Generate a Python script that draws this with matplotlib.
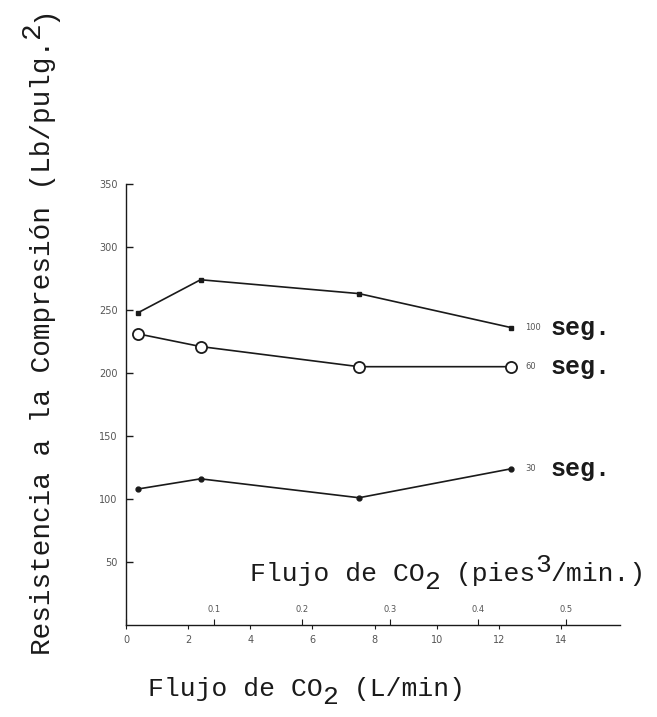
import numpy as np
import matplotlib
matplotlib.use("Agg")
import matplotlib.pyplot as plt

# Flow of CO2 (L/min) at which specimens were gassed
flow_lpm = [0.4, 2.4, 7.5, 12.4]

# Compressive strength (lb/in^2) for each gassing time
strength_100s = [248, 274, 263, 236]
strength_60s = [231, 221, 205, 205]
strength_30s = [108, 116, 101, 124]

series_labels = ["100", "60", "30"]

y_ticks = [50, 100, 150, 200, 250, 300, 350]
x_ticks_lpm = [0, 2, 4, 6, 8, 10, 12, 14]
x_ticks_cfm = [0, 0.1, 0.2, 0.3, 0.4, 0.5]
x_tick_labels_cfm = ["", "0.1", "0.2", "0.3", "0.4", "0.5"]

L_PER_FT3 = 28.3168

MONO = "Liberation Mono"
INK = "#1a1a1a"
TICK_INK = "#555555"

fig = plt.figure(figsize=(6.57, 7.17), dpi=100)
ax = fig.add_axes([0.1918, 0.1283, 0.7519, 0.6151])

ax.plot(flow_lpm, strength_100s, color=INK, lw=1.2, marker="s", ms=3,
        mfc=INK, mec=INK)
ax.plot(flow_lpm, strength_60s, color=INK, lw=1.2, marker="o", ms=8,
        mfc="white", mec=INK, mew=1.3)
ax.plot(flow_lpm, strength_30s, color=INK, lw=1.2, marker="o", ms=3.5,
        mfc=INK, mec=INK)

ax.set_xlim(0, 15.9)
ax.set_ylim(0, 350)
ax.set_yticks(y_ticks)
ax.set_xticks(x_ticks_lpm)
for sp in ("top", "right"):
    ax.spines[sp].set_visible(False)
for sp in ("left", "bottom"):
    ax.spines[sp].set_color(INK)
    ax.spines[sp].set_linewidth(1.0)

ax.tick_params(axis="y", direction="in", length=5, width=1.0, color=INK,
               pad=6, labelsize=7, labelcolor=TICK_INK)
ax.tick_params(axis="x", direction="out", length=3, width=0.8, color=INK,
               pad=4, labelsize=7, labelcolor=TICK_INK)

# Second scale for the flow, in cubic feet per minute, read above the axis line
sec = ax.secondary_xaxis(0.0, functions=(lambda v: v / L_PER_FT3,
                                         lambda v: v * L_PER_FT3))
sec.set_alignment("top")
sec.set_xticks(x_ticks_cfm)
sec.set_xticklabels(x_tick_labels_cfm)
sec.spines["top"].set_visible(False)
sec.tick_params(axis="x", direction="out", length=4, width=0.8, color=INK,
                pad=4, labelsize=6, labelcolor=TICK_INK)


def typed(xy, pieces, size, rotation=0, weight="normal"):
    """Write monospace text piece by piece, each piece raised or lowered."""
    adv = 0.6 * size
    ang = np.deg2rad(rotation)
    c, s = np.cos(ang), np.sin(ang)
    col = 0
    for txt, rise in pieces:
        dx, dy = col * adv, rise * size
        ax.annotate(txt, xy=xy, xycoords="figure fraction",
                    xytext=(dx * c - dy * s, dx * s + dy * c),
                    textcoords="offset points", rotation=rotation,
                    rotation_mode="anchor", ha="left", va="baseline",
                    fontsize=size, family=MONO, color=INK, weight=weight,
                    annotation_clip=False)
        col += len(txt)


typed((50 / 657, 1 - 655 / 717),
      [("Resistencia a la Compresión (Lb/pulg.", 0), ("2", 0.38), (")", 0)],
      20, rotation=90)
typed((250 / 657, 1 - 581 / 717),
      [("Flujo de CO", 0), ("2", -0.3), (" (pies", 0), ("3", 0.36),
       ("/min.)", 0)], 19)
typed((148 / 657, 1 - 696 / 717),
      [("Flujo de CO", 0), ("2", -0.3), (" (L/min)", 0)], 19)

# Gassing-time labels at the end of each curve
for vals, lab in zip([strength_100s, strength_60s, strength_30s], series_labels):
    ax.annotate(lab, xy=(flow_lpm[-1], vals[-1]), xytext=(10, 0),
                textcoords="offset points", ha="left", va="center",
                fontsize=6, color=TICK_INK, annotation_clip=False)
    ax.annotate("seg.", xy=(flow_lpm[-1], vals[-1]), xytext=(28, 0),
                textcoords="offset points", ha="left", va="center",
                fontsize=18, family=MONO, weight="bold", color=INK,
                annotation_clip=False)

fig.savefig("out.png", dpi=100, facecolor="white")
